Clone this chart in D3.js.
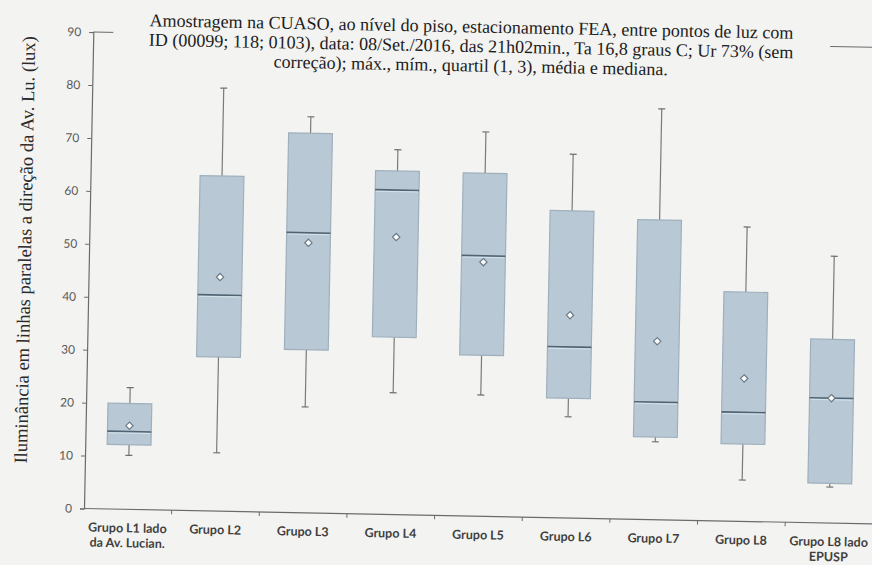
<!DOCTYPE html>
<html>
<head>
<meta charset="utf-8">
<script src="https://cdn.jsdelivr.net/npm/d3@7/dist/d3.min.js"></script>
<style>
  html, body { margin: 0; padding: 0; background: #f3f3f1; }
  svg { display: block; }
</style>
</head>
<body>
<svg id="chart" width="872" height="565"></svg>
<script>
// Group names (two-line labels split on "|")
const categories = [
  "Grupo L1 lado|da Av. Lucian.",
  "Grupo L2",
  "Grupo L3",
  "Grupo L4",
  "Grupo L5",
  "Grupo L6",
  "Grupo L7",
  "Grupo L8",
  "Grupo L8 lado|EPUSP"
];

// Illuminance statistics per group (lux)
const minValues    = [10.2, 11.0, 20.0, 23.0, 22.9, 19.1, 14.7,  7.8,  6.8];
const q1Values     = [12.2, 29.1, 30.8, 33.5, 30.4, 22.6, 15.6, 14.6,  7.5];
const medianValues = [14.7, 40.8, 52.9, 61.3, 49.2, 32.3, 22.2, 20.6, 23.6];
const q3Values     = [20.0, 63.3, 71.7, 64.9, 64.8, 58.0, 56.6, 43.3, 34.7];
const maxValues    = [23.0, 79.9, 74.8, 68.9, 72.6, 68.7, 77.6, 55.6, 50.4];
const meanValues   = [15.8, 44.2, 51.0, 52.4, 48.0, 38.3, 33.7, 27.0, 23.6];

const yTicks = [0, 10, 20, 30, 40, 50, 60, 70, 80, 90];

const titleLines = [
  "Amostragem na CUASO, ao nível do piso, estacionamento FEA, entre pontos de luz com",
  "ID (00099; 118; 0103), data: 08/Set./2016, das 21h02min., Ta 16,8 graus C; Ur 73% (sem",
  "correção); máx., mím., quartil (1, 3), média e mediana."
];
const yTitle = "Iluminância em linhas paralelas a direção da Av. Lu. (lux)";

const rows = categories.map((c, i) => ({
  cat: c,
  min: minValues[i], q1: q1Values[i], med: medianValues[i],
  q3: q3Values[i], max: maxValues[i], mean: meanValues[i]
}));

const svg = d3.select("#chart");
const plotLeft = 84, plotRight = 873, plotTop = 32, plotBottom = 508.5;

// The whole page is drawn slightly tilted, pivoting on the axis origin
const root = svg.append("g").attr("transform", `rotate(1.12, ${plotLeft}, ${plotBottom})`);

const x = d3.scaleBand().domain(categories).range([plotLeft, plotRight]).paddingInner(0).paddingOuter(0);
const y = d3.scaleLinear().domain([0, 90]).range([plotBottom, plotTop]);

const axisColor = "#6b6b6b";

// Top border of the plot area
root.append("line")
  .attr("x1", plotLeft).attr("x2", plotRight)
  .attr("y1", y(90)).attr("y2", y(90))
  .attr("stroke", axisColor).attr("stroke-width", 1);

// Y axis
const yAxis = root.append("g")
  .attr("transform", `translate(${plotLeft},0)`)
  .call(d3.axisLeft(y).tickValues(yTicks).tickSize(4).tickPadding(8).tickFormat(d3.format("d")));
yAxis.select(".domain").attr("stroke", axisColor).attr("stroke-width", 1.2);
yAxis.selectAll(".tick line").attr("stroke", axisColor);
yAxis.selectAll(".tick text")
  .attr("fill", "#5a5a5a")
  .style("font-family", "Lato, 'Open Sans', sans-serif")
  .style("font-size", "12px");

// X axis: baseline with ticks at group boundaries
root.append("line")
  .attr("x1", plotLeft).attr("x2", plotRight)
  .attr("y1", plotBottom).attr("y2", plotBottom)
  .attr("stroke", axisColor).attr("stroke-width", 1.2);
root.append("g").selectAll("line")
  .data(categories.slice(1))
  .join("line")
  .attr("x1", d => x(d)).attr("x2", d => x(d))
  .attr("y1", plotBottom).attr("y2", plotBottom + 4)
  .attr("stroke", axisColor);

const xLabels = root.append("g").selectAll("text")
  .data(categories)
  .join("text")
  .attr("x", d => x(d) + x.bandwidth() / 2)
  .attr("y", plotBottom + 23)
  .attr("text-anchor", "middle")
  .attr("fill", "#3f3f3f")
  .style("font-family", "Lato, 'Open Sans', sans-serif")
  .style("font-weight", "bold")
  .style("font-size", "12.5px");
xLabels.each(function (d) {
  const t = d3.select(this);
  d.split("|").forEach((line, i) => {
    t.append("tspan")
      .attr("x", x(d) + x.bandwidth() / 2)
      .attr("dy", i === 0 ? 0 : 15)
      .text(line);
  });
});

// Box plots
const boxW = x.bandwidth() * 0.5;
const boxes = root.append("g").selectAll("g")
  .data(rows)
  .join("g")
  .attr("transform", d => `translate(${x(d.cat) + x.bandwidth() / 2},0)`);

// upper whisker
boxes.append("line")
  .attr("x1", 0).attr("x2", 0)
  .attr("y1", d => y(d.q3)).attr("y2", d => y(d.max))
  .attr("stroke", "#7a7a7a").attr("stroke-width", 1.2);
// lower whisker
boxes.append("line")
  .attr("x1", 0).attr("x2", 0)
  .attr("y1", d => y(d.q1)).attr("y2", d => y(d.min))
  .attr("stroke", "#7a7a7a").attr("stroke-width", 1.2);
// caps
boxes.append("line")
  .attr("x1", -3.5).attr("x2", 3.5)
  .attr("y1", d => y(d.max)).attr("y2", d => y(d.max))
  .attr("stroke", "#6f6f6f").attr("stroke-width", 1.2);
boxes.append("line")
  .attr("x1", -3.5).attr("x2", 3.5)
  .attr("y1", d => y(d.min)).attr("y2", d => y(d.min))
  .attr("stroke", "#6f6f6f").attr("stroke-width", 1.2);

// interquartile box
boxes.append("rect")
  .attr("x", -boxW / 2)
  .attr("width", boxW)
  .attr("y", d => y(d.q3))
  .attr("height", d => y(d.q1) - y(d.q3))
  .attr("fill", "#b8c8d4")
  .attr("stroke", "#9fb0bd")
  .attr("stroke-width", 1.2);

// median
boxes.append("line")
  .attr("x1", -boxW / 2).attr("x2", boxW / 2)
  .attr("y1", d => y(d.med)).attr("y2", d => y(d.med))
  .attr("stroke", "#4f6372").attr("stroke-width", 1.6);
boxes.append("line")
  .attr("x1", -boxW / 2 + 1).attr("x2", boxW / 2 - 1)
  .attr("y1", d => y(d.med) + 1.6).attr("y2", d => y(d.med) + 1.6)
  .attr("stroke", "#d6e2ea").attr("stroke-width", 1);

// mean marker (diamond)
boxes.append("path")
  .attr("d", d3.symbol(d3.symbolDiamond2, 34))
  .attr("transform", d => `translate(0,${y(d.mean)})`)
  .attr("fill", "#ffffff")
  .attr("stroke", "#6c7b86")
  .attr("stroke-width", 1.2);

// Title block with its own background, laid over the top border
const titleX = 462;
root.append("rect")
  .attr("x", 104).attr("y", 2)
  .attr("width", 717).attr("height", 68)
  .attr("fill", "#f3f3f1");
root.append("g").selectAll("text")
  .data(titleLines)
  .join("text")
  .attr("x", titleX)
  .attr("y", (d, i) => 25 + i * 19.5)
  .attr("text-anchor", "middle")
  .attr("fill", "#1c1c1c")
  .style("font-family", "'Liberation Serif', 'Times New Roman', serif")
  .style("font-size", "18px")
  .text(d => d);

// Y axis title
root.append("text")
  .attr("transform", `translate(26, 251) rotate(-90)`)
  .attr("text-anchor", "middle")
  .attr("fill", "#2a2a2a")
  .style("font-family", "'Liberation Serif', 'Times New Roman', serif")
  .style("font-size", "18.5px")
  .text(yTitle);
</script>
</body>
</html>
